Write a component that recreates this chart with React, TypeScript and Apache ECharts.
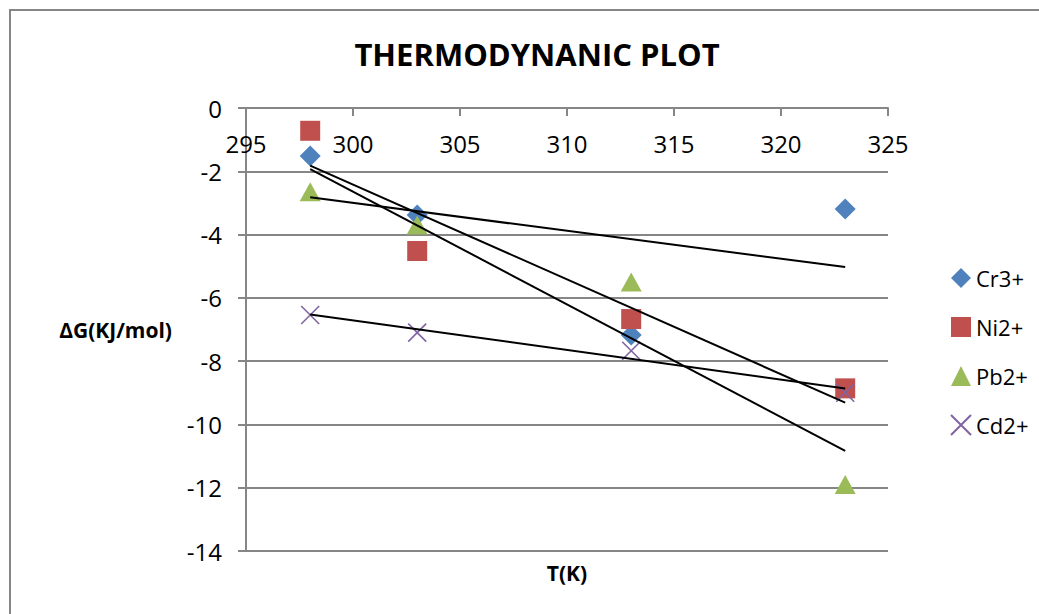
import React, { useEffect, useRef } from "react";
import * as echarts from "echarts";

const temperatures = [298, 303, 313, 323];
const cr3 = [-1.52, -3.38, -7.17, -3.19];
const ni2 = [-0.72, -4.52, -6.67, -8.86];
const pb2 = [-2.65, -3.7, -5.5, -11.9];
const cd2 = [-6.54, -7.1, -7.67, -9.0];
const seriesNames = ["Cr3+", "Ni2+", "Pb2+", "Cd2+"];
const seriesColors = ["#4F81BD", "#C0504D", "#9BBB59", "#8064A2"];
const title = "THERMODYNANIC PLOT";
const xName = "T(K)";
const yName = "ΔG(KJ/mol)";

const FONT = "'Open Sans', 'Liberation Sans', sans-serif";

function fitLine(xs: number[], ys: number[]): number[][] {
  const n = xs.length;
  const mx = xs.reduce((a, b) => a + b, 0) / n;
  const my = ys.reduce((a, b) => a + b, 0) / n;
  let sxy = 0, sxx = 0;
  for (let i = 0; i < n; i++) {
    sxy += (xs[i] - mx) * (ys[i] - my);
    sxx += (xs[i] - mx) * (xs[i] - mx);
  }
  const slope = sxy / sxx;
  const x0 = Math.min(...xs), x1 = Math.max(...xs);
  return [
    [x0, my + slope * (x0 - mx)],
    [x1, my + slope * (x1 - mx)],
  ];
}

export default function App() {
  const ref = useRef<HTMLDivElement>(null);
  useEffect(() => {
    if (!ref.current) return;
    const chart = echarts.init(ref.current, null, { renderer: "svg" });
    const allY = [cr3, ni2, pb2, cd2];
    const symbols = [
      "diamond",
      "rect",
      "triangle",
      "path://M0,0L10,10M10,0L0,10",
    ];
    const sizes: any[] = [[21, 21], [20, 20], [21, 19], [18, 18]];
    const scatter = allY.map((ys, i) => ({
      name: seriesNames[i],
      type: "scatter",
      data: temperatures.map((t, j) => [t, ys[j]]),
      symbol: symbols[i],
      symbolSize: sizes[i],
      z: 3,
      itemStyle:
        i === 3
          ? { color: seriesColors[i], borderColor: seriesColors[i], borderWidth: 1.6, opacity: 1 }
          : { color: seriesColors[i], opacity: 1 },
    }));
    const trends = allY.map((ys, i) => ({
      name: seriesNames[i] + " trend",
      type: "line",
      data: fitLine(temperatures, ys),
      showSymbol: false,
      symbol: "none",
      silent: true,
      z: 4,
      lineStyle: { color: "#000", width: 2 },
    }));
    chart.setOption({
      animation: false,
      textStyle: { fontFamily: FONT },
      title: {
        text: title,
        left: 532,
        top: 33,
        textAlign: "center",
        textStyle: { fontFamily: FONT, fontSize: 31, fontWeight: "bold", color: "#000" },
      },
      grid: { left: 246, top: 108, right: 151, bottom: 63, containLabel: false },
      legend: {
        data: seriesNames,
        orient: "vertical",
        left: 945,
        top: 262,
        itemGap: 27,
        itemWidth: 20,
        itemHeight: 20,
        textStyle: { fontFamily: FONT, fontSize: 22, color: "#000" },
      },
      xAxis: {
        type: "value",
        position: "top",
        min: 295,
        max: 325,
        interval: 5,
        name: xName,
        nameLocation: "middle",
        nameGap: -475,
        nameTextStyle: { fontFamily: FONT, fontSize: 21, fontWeight: "bold", color: "#000" },
        axisLine: { onZero: false, lineStyle: { color: "#868686", width: 2 } },
        axisTick: { inside: true, length: 8, lineStyle: { color: "#868686", width: 2 } },
        axisLabel: { inside: true, margin: 23, fontFamily: FONT, fontSize: 24, color: "#000" },
        splitLine: { show: false },
      },
      yAxis: {
        type: "value",
        min: -14,
        max: 0,
        interval: 2,
        name: yName,
        nameLocation: "middle",
        nameRotate: 0,
        nameGap: 74,
        nameTextStyle: { fontFamily: FONT, fontSize: 21, fontWeight: "bold", color: "#000" },
        axisLine: { show: true, onZero: false, lineStyle: { color: "#868686", width: 2 } },
        axisTick: { show: true, length: 8, lineStyle: { color: "#868686", width: 2 } },
        axisLabel: { margin: 24, fontFamily: FONT, fontSize: 24, color: "#000" },
        splitLine: { show: true, lineStyle: { color: "#868686", width: 2 } },
      },
      graphic: [
        {
          type: "rect",
          shape: { x: 10, y: 10, width: 1100, height: 700 },
          style: { fill: "none", stroke: "#868686", lineWidth: 2 },
          silent: true,
        },
      ],
      series: [...trends, ...scatter],
    });
    return () => chart.dispose();
  }, []);
  return (
    <div
      ref={ref}
      style={{ position: "absolute", left: 0, top: 0, width: 1039, height: 614, background: "#fff" }}
    />
  );
}
